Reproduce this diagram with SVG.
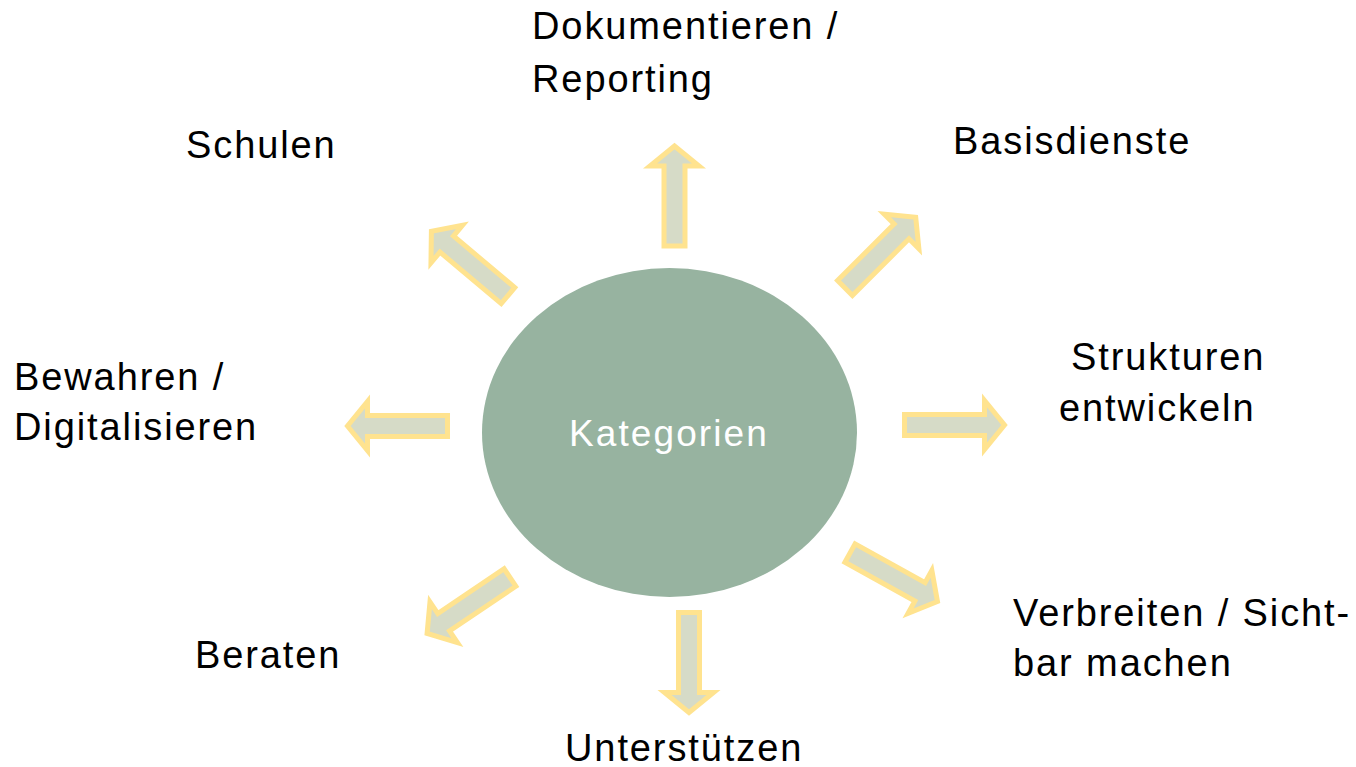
<svg xmlns="http://www.w3.org/2000/svg" width="1356" height="767" viewBox="0 0 1356 767">
<style>
.lbl{font-family:"Liberation Sans",Arial,sans-serif;font-size:38px;letter-spacing:1.9px;fill:#000}
.center{font-family:"Liberation Sans",Arial,sans-serif;font-size:37px;letter-spacing:2.1px;fill:#fff}
.arr{fill:#D6DBC7;stroke:#FFE38F;stroke-width:5;stroke-linejoin:miter}
</style>
<defs>
<path id="arrow" d="M0,-10.5 L80,-10.5 L80,-24.5 L100,0 L80,24.5 L80,10.5 L0,10.5 Z"/>
</defs>
<rect width="1356" height="767" fill="#fff"/>
<g id="connectors">
<use href="#arrow" class="arr" transform="translate(674.5,246) rotate(-90)"/>
<use href="#arrow" class="arr" transform="translate(845,288) rotate(-45)"/>
<use href="#arrow" class="arr" transform="translate(904.5,425) rotate(0)"/>
<use href="#arrow" class="arr" transform="translate(850,553) rotate(29)"/>
<use href="#arrow" class="arr" transform="translate(689,612.5) rotate(90)"/>
<use href="#arrow" class="arr" transform="translate(510,577.5) rotate(146)"/>
<use href="#arrow" class="arr" transform="translate(447.5,426) rotate(180)"/>
<use href="#arrow" class="arr" transform="translate(508,295.5) rotate(-140)"/>
</g>
<g id="center">
<ellipse cx="669.5" cy="432.5" rx="187.5" ry="164.5" fill="#97B3A0"/>
<text class="center" x="569" y="446">Kategorien</text>
</g>
<g id="n-dokumentieren"><text class="lbl" x="532" y="39">Dokumentieren /</text><text class="lbl" x="532" y="92">Reporting</text></g>
<g id="n-basisdienste"><text class="lbl" x="953" y="154">Basisdienste</text></g>
<g id="n-strukturen"><text class="lbl" x="1071" y="370">Strukturen</text><text class="lbl" x="1059" y="421">entwickeln</text></g>
<g id="n-verbreiten"><text class="lbl" x="1013" y="626">Verbreiten / Sicht-</text><text class="lbl" x="1013" y="676">bar machen</text></g>
<g id="n-unterstuetzen"><text class="lbl" x="565" y="761">Unterstützen</text></g>
<g id="n-beraten"><text class="lbl" x="195" y="668">Beraten</text></g>
<g id="n-bewahren"><text class="lbl" x="14" y="390">Bewahren /</text><text class="lbl" x="14" y="440">Digitalisieren</text></g>
<g id="n-schulen"><text class="lbl" x="186" y="158">Schulen</text></g>
</svg>
